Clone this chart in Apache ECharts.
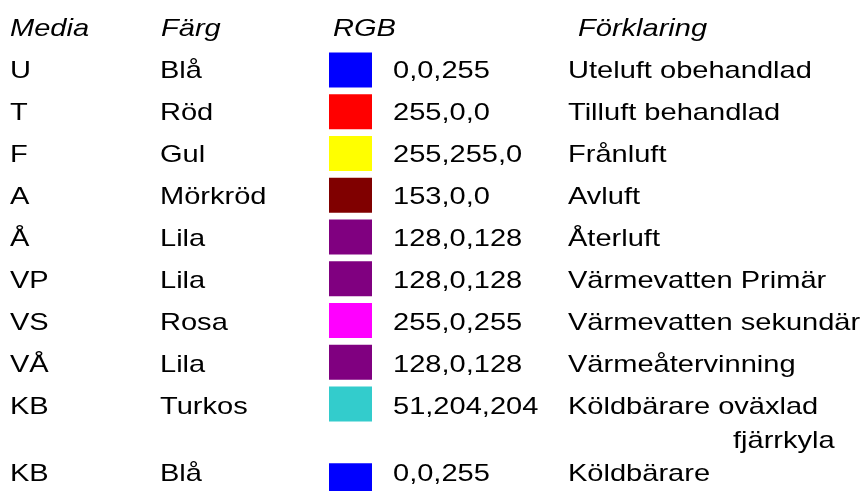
<!DOCTYPE html>
<html>
<head>
<meta charset="utf-8">
<script src="https://cdn.jsdelivr.net/npm/echarts@6/dist/echarts.min.js"></script>
<style>
html,body{margin:0;padding:0;background:#fff;}
#chart{width:866px;height:491px;}
</style>
</head>
<body>
<div id="chart"></div>
<script>
// ---- data ----
const headers = ['Media', 'Färg', 'RGB', 'Förklaring'];
const mediaCodes = ['U', 'T', 'F', 'A', 'Å', 'VP', 'VS', 'VÅ', 'KB', 'KB'];
const colourNames = ['Blå', 'Röd', 'Gul', 'Mörkröd', 'Lila', 'Lila', 'Rosa', 'Lila', 'Turkos', 'Blå'];
const rgbValues = ['0,0,255', '255,0,0', '255,255,0', '153,0,0', '128,0,128', '128,0,128', '255,0,255', '128,0,128', '51,204,204', '0,0,255'];
const swatchColours = ['#0000ff', '#ff0000', '#ffff00', '#800000', '#800080', '#800080', '#ff00ff', '#800080', '#33cccc', '#0000ff'];
const explanations = ['Uteluft obehandlad', 'Tilluft behandlad', 'Frånluft', 'Avluft', 'Återluft', 'Värmevatten Primär', 'Värmevatten sekundär', 'Värmeåtervinning', 'Köldbärare oväxlad\nfjärrkyla', 'Köldbärare'];

// ---- layout (not data) ----
const SX = 1.21;
const FONT_FAMILY = 'Arial, "Liberation Sans", sans-serif';
const COL_X = { media: 10, colour: 160, swatch: 329, rgb: 393, expl: 568, cont: 733 };
const HEAD_X = [10, 161, 333, 578];
const SWATCH_W = 43, SWATCH_H = 0.835; // height in row units
const LINE_STEP = 0.81; // continuation line spacing in row units
function textRow(i) { return i < 9 ? i : 9.6; }
function swatchRow(i) { return i < 9 ? i * 0.994 : 9.78; }

function txt(api, x, rowVal, text, italic) {
  const p = api.coord([x, rowVal]);
  return {
    type: 'text', x: p[0], y: p[1] + 1, scaleX: SX, silent: true,
    style: {
      text: text, x: 0, y: 0, fill: '#000',
      fontSize: 24, fontFamily: FONT_FAMILY, fontStyle: italic ? 'italic' : 'normal',
      align: 'left', verticalAlign: 'middle', textAlign: 'left', textVerticalAlign: 'middle'
    }
  };
}

function renderRow(params, api) {
  const i = api.value(0);
  const r = textRow(i);
  const children = [];
  children.push(txt(api, COL_X.media, r, mediaCodes[i]));
  children.push(txt(api, COL_X.colour, r, colourNames[i]));
  const sr = swatchRow(i);
  const tl = api.coord([COL_X.swatch, sr - SWATCH_H / 2]);
  const br = api.coord([COL_X.swatch + SWATCH_W, sr + SWATCH_H / 2]);
  children.push({
    type: 'rect', silent: true,
    shape: { x: tl[0], y: tl[1], width: br[0] - tl[0], height: br[1] - tl[1] },
    style: { fill: swatchColours[i] }
  });
  children.push(txt(api, COL_X.rgb, r, rgbValues[i]));
  const lines = explanations[i].split('\n');
  lines.forEach(function (ln, k) {
    children.push(txt(api, k === 0 ? COL_X.expl : COL_X.cont, r + k * LINE_STEP, ln));
  });
  return { type: 'group', children: children };
}

function renderHeader(params, api) {
  return {
    type: 'group',
    children: headers.map(function (h, k) { return txt(api, HEAD_X[k], -1, h, true); })
  };
}

const chart = echarts.init(document.getElementById('chart'), null, { renderer: 'canvas' });
chart.setOption({
  animation: false,
  backgroundColor: '#ffffff',
  grid: { left: 0, right: 0, top: 0, bottom: 0 },
  xAxis: { type: 'value', min: 0, max: 866, show: false },
  yAxis: { type: 'value', min: -70 / 42, max: (491 - 70) / 42, inverse: true, show: false },
  series: [
    { type: 'custom', renderItem: renderHeader, data: [[0]], silent: true, clip: false },
    { type: 'custom', renderItem: renderRow, data: mediaCodes.map(function (_, i) { return [i]; }), silent: true, clip: false }
  ]
});
</script>
</body>
</html>
